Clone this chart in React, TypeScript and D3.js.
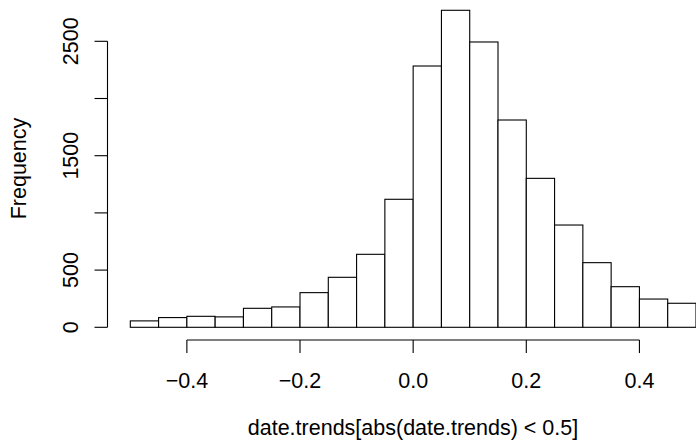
import React from "react";
import * as d3 from "d3";

const binBreaks = [-0.5, -0.45, -0.4, -0.35, -0.3, -0.25, -0.2, -0.15, -0.1, -0.05, 0, 0.05, 0.1, 0.15, 0.2, 0.25, 0.3, 0.35, 0.4, 0.45, 0.5];
const counts = [56, 85, 96, 91, 166, 178, 303, 437, 638, 1119, 2284, 2771, 2494, 1812, 1302, 894, 565, 355, 247, 210];
const xTicks = [-0.4, -0.2, 0, 0.2, 0.4];
const yTicks = [0, 500, 1000, 1500, 2000, 2500];
const yTickLabels = ["0", "500", "", "1500", "", "2500"];
const xTitle = "date.trends[abs(date.trends) < 0.5]";
const yTitle = "Frequency";

const W = 696;
const H = 441;
const FONT = "'Liberation Sans', Arial, Helvetica, sans-serif";
const FS = 21.5;

export default function App() {
  const x = d3.scaleLinear().domain([-0.5, 0.5]).range([130.3, 696]);
  const y = d3.scaleLinear().domain([0, 2500]).range([327.3, 41.3]);
  const axisX = 107.5;
  const axisY = 340;
  const tickLen = 13;
  const fmt = (v: number) => (v === 0 ? "0.0" : d3.format(".1f")(v).replace("-", "\u2212"));

  return (
    <svg width={W} height={H} style={{ position: "absolute", left: 0, top: 0, background: "#fff" }} fontFamily={FONT}>
      <rect x={0} y={0} width={W} height={H} fill="#fff" />
      {counts.map((c, i) => (
        <rect
          key={i}
          x={x(binBreaks[i])}
          y={y(c)}
          width={x(binBreaks[i + 1]) - x(binBreaks[i])}
          height={y(0) - y(c)}
          fill="#fff"
          stroke="#000"
          strokeWidth={1.1}
        />
      ))}
      {/* y axis */}
      <line x1={axisX} x2={axisX} y1={y(yTicks[0])} y2={y(yTicks[yTicks.length - 1])} stroke="#000" strokeWidth={1.1} />
      {yTicks.map((t, i) => (
        <g key={t}>
          <line x1={axisX - tickLen} x2={axisX} y1={y(t)} y2={y(t)} stroke="#000" strokeWidth={1.1} />
          {yTickLabels[i] && (
            <text
              transform={`translate(77.7,${y(t)}) rotate(-90)`}
              textAnchor="middle"
              fontSize={FS}
              fill="#000"
            >
              {yTickLabels[i]}
            </text>
          )}
        </g>
      ))}
      {/* x axis */}
      <line x1={x(xTicks[0])} x2={x(xTicks[xTicks.length - 1])} y1={axisY} y2={axisY} stroke="#000" strokeWidth={1.1} />
      {xTicks.map((t) => (
        <g key={t}>
          <line x1={x(t)} x2={x(t)} y1={axisY} y2={axisY + tickLen} stroke="#000" strokeWidth={1.1} />
          <text x={x(t)} y={387.7} textAnchor="middle" fontSize={FS} fill="#000">
            {fmt(t)}
          </text>
        </g>
      ))}
      <text x={413} y={435} textAnchor="middle" fontSize={FS} fill="#000">
        {xTitle}
      </text>
      <text transform={`translate(25.5,168.5) rotate(-90)`} textAnchor="middle" fontSize={FS} fill="#000">
        {yTitle}
      </text>
    </svg>
  );
}
